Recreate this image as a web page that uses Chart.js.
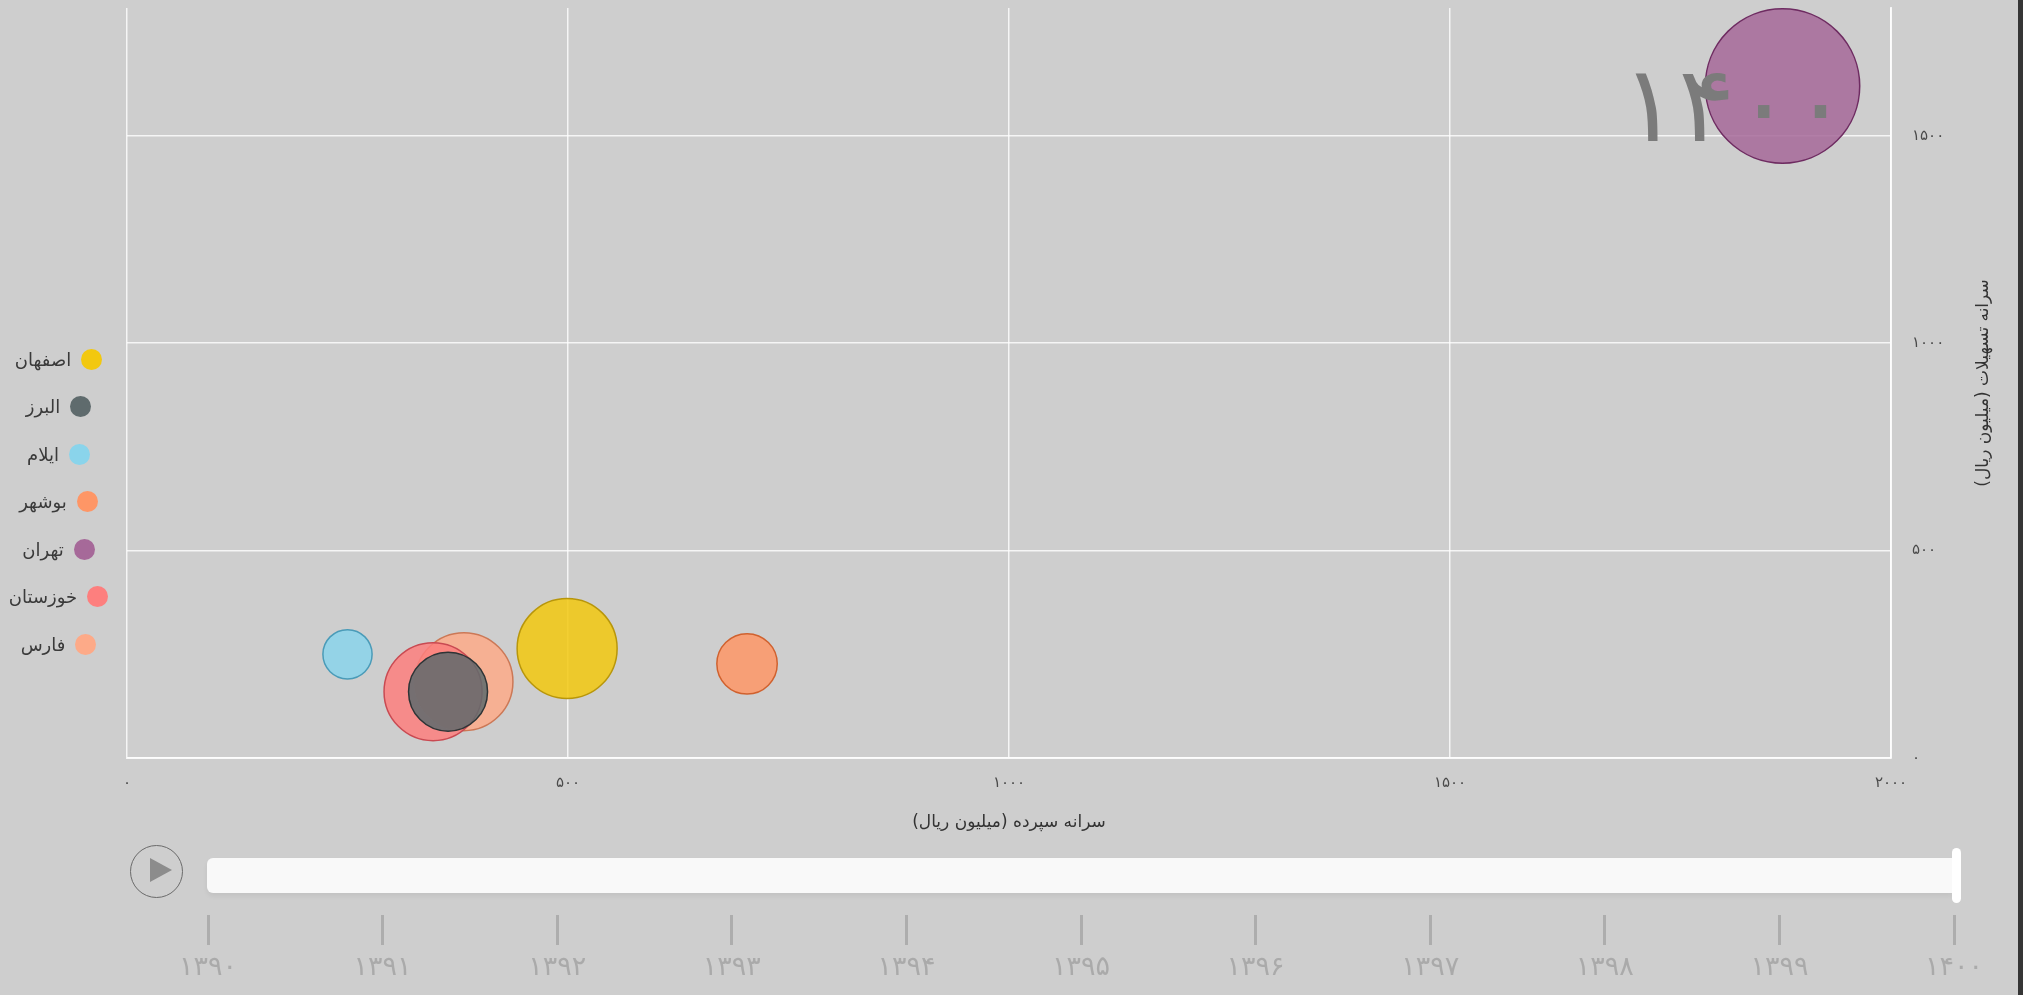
<!DOCTYPE html>
<html lang="fa">
<head>
<meta charset="utf-8">
<script src="https://cdn.jsdelivr.net/npm/chart.js@4.4.0/dist/chart.umd.min.js"></script>
<style>
html,body{margin:0;padding:0;background:#cecece;width:2023px;height:995px;overflow:hidden;font-family:'DejaVu Sans',sans-serif;}
#c{position:absolute;left:0;top:0;}
#edge{position:absolute;left:2018px;top:0;width:5px;height:995px;background:#353535;}
.li{position:absolute;left:0;width:117px;height:24px;display:flex;justify-content:center;align-items:center;direction:rtl;}
.li .dot{width:21px;height:21px;border-radius:50%;margin-left:10px;flex:none;}
.li .tx{font-size:18px;color:#3a3a3a;white-space:nowrap;}
#play{position:absolute;left:130px;top:845px;width:51px;height:51px;border:1.5px solid #6a6a6a;border-radius:50%;}
#tri{position:absolute;left:150px;top:858px;width:0;height:0;border-left:22px solid #8c8c8c;border-top:12.5px solid transparent;border-bottom:12.5px solid transparent;}
#track{position:absolute;left:207px;top:858px;width:1745px;height:35px;background:#f9f9f9;border-radius:6px 0 0 6px;box-shadow:0 3px 5px rgba(0,0,0,0.06);}
#handle{position:absolute;left:1952px;top:848px;width:9px;height:55px;background:#ffffff;border-radius:5px;}
.tk{position:absolute;top:915px;width:3px;height:30px;background:#adadad;}
.yl{position:absolute;top:950px;width:120px;text-align:center;font-size:27px;color:#aaaaaa;direction:rtl;}
</style>
</head>
<body>
<canvas id="c" width="2023" height="995" dir="rtl"></canvas>
<div id="legend"></div>
<div id="play"></div><div id="tri"></div>
<div id="track"></div><div id="handle"></div>
<div id="timeline"></div>
<div id="edge"></div>
<script>
// ---- data ----
const provinces = ['اصفهان','البرز','ایلام','بوشهر','تهران','خوزستان','فارس'];
const depositPerCapita = [499, 364, 250, 703, 1877, 347, 382];   // x
const loanPerCapita    = [264, 160, 250, 227, 1620, 160, 184];   // y
const bubbleSize       = [50, 39.5, 24.6, 30.2, 77.2, 49, 49];   // r
const colors       = ['#F2C80F','#5F6B6D','#8AD4EB','#FE9666','#A66999','#FD7F7E','#FDAA88'];
const borderColors = ['#B8960A','#2E3436','#4A9BB8','#D0612E','#6E2B61','#C94A52','#CC7856'];
const xTickValues = [0, 500, 1000, 1500, 2000];
const xTickLabels = ['۰','۵۰۰','۱۰۰۰','۱۵۰۰','۲۰۰۰'];
const yTickValues = [0, 500, 1000, 1500];
const yTickLabels = ['۰','۵۰۰','۱۰۰۰','۱۵۰۰'];
const years = ['۱۳۹۰','۱۳۹۱','۱۳۹۲','۱۳۹۳','۱۳۹۴','۱۳۹۵','۱۳۹۶','۱۳۹۷','۱۳۹۸','۱۳۹۹','۱۴۰۰'];
const currentYear = '۱۴۰۰';
const xTitle = 'سرانه سپرده (میلیون ریال)';
const yTitle = 'سرانه تسهیلات (میلیون ریال)';

const FONT = 'DejaVu Sans';
function withAlpha(hex, a){
  const n = parseInt(hex.slice(1),16);
  return `rgba(${(n>>16)&255},${(n>>8)&255},${n&255},${a})`;
}

const datasets = provinces.map((p,i)=>({
  label: p,
  data: [{x: depositPerCapita[i], y: loanPerCapita[i], r: bubbleSize[i]}],
  backgroundColor: withAlpha(colors[i], 0.85),
  borderColor: borderColors[i],
  borderWidth: 1.5,
  order: bubbleSize[i]
}));

const overlayPlugin = {
  id: 'overlay',
  afterDatasetsDraw(chart){
    const ctx = chart.ctx, a = chart.chartArea;
    ctx.save();
    ctx.direction = 'ltr';
    ctx.font = `106px "${FONT}"`;
    ctx.fillStyle = '#7b7b7b';
    ctx.textAlign = 'right';
    ctx.textBaseline = 'alphabetic';
    ctx.fillText(currentYear, a.right - 42, 141);
    ctx.restore();
  },
  afterDraw(chart){
    const ctx = chart.ctx, a = chart.chartArea;
    ctx.save();
    ctx.direction = 'rtl';
    ctx.translate(1984, (a.top + a.bottom)/2);
    ctx.rotate(-Math.PI/2);
    ctx.font = `17px "${FONT}"`;
    ctx.fillStyle = '#333';
    ctx.textAlign = 'center';
    ctx.textBaseline = 'middle';
    ctx.fillText(yTitle, 0, 0);
    ctx.restore();
  }
};

const gridColor = 'rgba(255,255,255,0.8)';
new Chart(document.getElementById('c'), {
  type: 'bubble',
  data: { datasets },
  options: {
    responsive: false,
    animation: false,
    events: [],
    layout: { autoPadding: false, padding: { left: 127, top: 8, right: 0, bottom: 157 } },
    plugins: { legend: { display: false }, tooltip: { enabled: false } },
    scales: {
      x: {
        type: 'linear', min: 0, max: 2000,
        grid: { color: gridColor, lineWidth: 1.5, drawTicks: false },
        border: { display: true, color: gridColor, width: 2 },
        afterBuildTicks(s){ s.ticks = xTickValues.map(v => ({ value: v })); },
        ticks: { autoSkip: false, padding: 16, color: '#4a4a4a', font: { family: FONT, size: 15 },
          callback: (v) => xTickLabels[xTickValues.indexOf(v)] },
        title: { display: true, text: xTitle, color: '#333', font: { family: FONT, size: 17 }, padding: { top: 4, bottom: 5 } },
        afterFit(s){ s.height = 80; s.paddingLeft = 0; s.paddingRight = 0; }
      },
      y: {
        type: 'linear', position: 'right', min: 0, max: 1808,
        grid: { color: gridColor, lineWidth: 1.5, drawTicks: false },
        border: { display: true, color: gridColor, width: 2 },
        afterBuildTicks(s){ s.ticks = yTickValues.map(v => ({ value: v })); },
        ticks: { autoSkip: false, padding: 21, color: '#4a4a4a', font: { family: FONT, size: 15 },
          callback: (v) => yTickLabels[yTickValues.indexOf(v)] },
        afterFit(s){ s.width = 132; s.paddingTop = 0; s.paddingBottom = 0; }
      }
    }
  },
  plugins: [overlayPlugin]
});

// ---- legend (HTML) ----
const lg = document.getElementById('legend');
provinces.forEach((p,i)=>{
  const d = document.createElement('div');
  d.className = 'li';
  d.style.top = (347 + i*47.5) + 'px';
  d.innerHTML = `<span class="dot" style="background:${colors[i]}"></span><span class="tx">${p}</span>`;
  lg.appendChild(d);
});

// ---- timeline (HTML) ----
const tl = document.getElementById('timeline');
const t0 = 208, t1 = 1954;
years.forEach((y,i)=>{
  const x = t0 + i*(t1-t0)/(years.length-1);
  const t = document.createElement('div');
  t.className = 'tk'; t.style.left = (x-1.5)+'px';
  tl.appendChild(t);
  const l = document.createElement('div');
  l.className = 'yl'; l.style.left = (x-60)+'px'; l.textContent = y;
  tl.appendChild(l);
});
</script>
</body>
</html>
